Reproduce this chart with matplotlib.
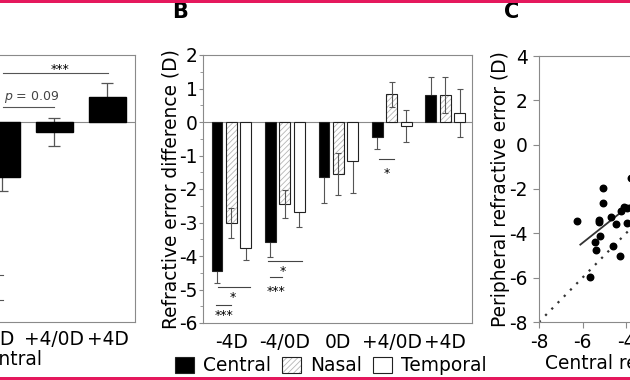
import matplotlib
matplotlib.use("Agg")
import matplotlib.pyplot as plt
from matplotlib.patches import Patch, Rectangle
from matplotlib.legend_handler import HandlerTuple
from matplotlib.ticker import MultipleLocator
import numpy as np

plt.rcParams['font.family'] = ['DejaVu Sans']
plt.rcParams['axes.unicode_minus'] = False
plt.rcParams['hatch.linewidth'] = 0.6

# ---------------- data ----------------
# Panel A (central, visible categories only)
a_categories = ["0D", "+4/0D", "+4D"]
a_values = [-1.65, -0.30, 0.75]
a_errors = [0.42, 0.42, 0.42]

# Panel B
b_categories = ["-4D", "-4/0D", "0D", "+4/0D", "+4D"]
b_central = [-4.46, -3.59, -1.65, -0.46, 0.82]
b_central_err = [0.34, 0.45, 0.78, 0.34, 0.53]
b_nasal = [-3.02, -2.45, -1.56, 0.83, 0.81]
b_nasal_err = [0.45, 0.43, 0.62, 0.37, 0.54]
b_temporal = [-3.77, -2.69, -1.17, -0.12, 0.27]
b_temporal_err = [0.36, 0.45, 0.95, 0.47, 0.73]
b_series = ["Central", "Nasal", "Temporal"]

# Panel C (visible points)
c_central = [-6.25, -5.05, -5.05, -5.25, -5.22, -5.18, -5.44, -5.36, -5.64,
             -4.67, -4.48, -4.59, -4.28, -4.25, -4.10, -3.94, -3.97, -3.79]
c_peripheral = [-3.45, -1.94, -2.62, -3.38, -3.50, -4.10, -4.40, -4.74, -5.98,
                -3.27, -3.57, -4.55, -5.01, -2.97, -2.82, -2.85, -3.53, -1.50]
c_fit_x = [-6.1, -2.5]
c_fit_slope = 0.78
c_fit_intercept = -4.51 + 0.78 * 6.1

FS = 13.4
GRAY = '#8a8a8a'
EDGE = '#222222'

fig = plt.figure(figsize=(6.3, 3.8), dpi=100)

# ---------------- Panel A ----------------
axA = fig.add_axes([-132 / 630, 58 / 380, 267 / 630, 267 / 380])
xa = np.arange(len(a_categories)) + 2
axA.errorbar(xa, a_values, yerr=a_errors, fmt='none', ecolor='#555555',
             elinewidth=0.9, capsize=4, capthick=0.9, zorder=1)
axA.bar(xa, a_values, width=0.7, color='black', edgecolor='black', zorder=2)
axA.axhline(0, color=GRAY, lw=0.8, zorder=0)
axA.set_xlim(-0.52, 4.52)
axA.set_ylim(-6, 2)
axA.set_xticks(xa)
axA.set_xticklabels(a_categories, fontsize=FS)
axA.tick_params(axis='x', length=0, pad=6)
axA.tick_params(axis='y', length=0, labelleft=False)
for s in axA.spines.values():
    s.set_color(GRAY)
    s.set_linewidth(0.8)
axA.set_xlabel("Central", fontsize=FS)
axA.xaxis.set_label_coords(0.524, -0.105)
# significance marks
axA.plot([2.03, 4.01], [1.47, 1.47], color='#555555', lw=0.8)
axA.annotate("***", (3.1, 1.68), xytext=(0, -5.2), textcoords='offset points',
             ha='center', va='baseline', fontsize=9)
axA.plot([2.03, 2.99], [0.45, 0.45], color='#555555', lw=0.8)
axA.text(2.56, 0.75, r"$p$ = 0.09", ha='center', va='center', fontsize=9, color='#444444')
axA.plot([1.5, 2.03], [-4.58, -4.58], color='#555555', lw=0.8)
axA.plot([1.5, 2.03], [-5.33, -5.33], color='#555555', lw=0.8)

# ---------------- Panel B ----------------
axB = fig.add_axes([203 / 630, 57 / 380, 269 / 630, 268 / 380])
xb = np.arange(len(b_categories))
off = 0.27
w = 0.2
# central
axB.errorbar(xb - off, b_central, yerr=b_central_err, fmt='none', ecolor='#555555',
             elinewidth=0.8, capsize=2, capthick=0.8, zorder=1)
axB.bar(xb - off, b_central, width=w, color='black', edgecolor=EDGE, lw=0.8, zorder=2)
# nasal (hatched)
axB.bar(xb, b_nasal, width=w, color='white', edgecolor='#b5b5b5', hatch='//////',
        lw=0, zorder=2)
axB.bar(xb, b_nasal, width=w, fill=False, edgecolor=EDGE, lw=0.8, zorder=3)
axB.errorbar(xb, b_nasal, yerr=b_nasal_err, fmt='none', ecolor='#555555',
             elinewidth=0.8, capsize=2, capthick=0.8, zorder=4)
# temporal
axB.errorbar(xb + off, b_temporal, yerr=b_temporal_err, fmt='none', ecolor='#555555',
             elinewidth=0.8, capsize=2, capthick=0.8, zorder=1)
axB.bar(xb + off, b_temporal, width=w, color='white', edgecolor=EDGE, lw=0.8, zorder=2)

axB.axhline(0, color=GRAY, lw=0.8, zorder=0)
axB.set_xlim(-0.53, 4.5)
axB.set_ylim(-6, 2)
axB.yaxis.set_major_locator(MultipleLocator(1))
axB.yaxis.set_minor_locator(MultipleLocator(0.5))
axB.set_xticks(xb)
axB.set_xticklabels(b_categories, fontsize=FS)
axB.tick_params(axis='x', length=0, pad=7)
axB.tick_params(axis='y', which='major', length=3, pad=1, labelsize=FS, color=GRAY)
axB.tick_params(axis='y', which='minor', length=2, color=GRAY)
for s in axB.spines.values():
    s.set_color(GRAY)
    s.set_linewidth(0.8)
axB.set_ylabel("Refractive error difference (D)", fontsize=FS)
axB.yaxis.set_label_coords(-0.083, 0.5)

# significance marks panel B
sig_lines = [((-0.25, 0.35), -4.94), ((-0.29, -0.01), -5.45),
             ((0.68, 1.32), -4.16), ((0.72, 0.94), -4.64),
             ((2.76, 3.04), -1.11)]
for (x0, x1), y in sig_lines:
    axB.plot([x0, x1], [y, y], color='#444444', lw=0.8)
sig_texts = [(0.03, -5.12, "*"), (-0.14, -5.66, "***"),
             (0.96, -4.34, "*"), (0.83, -4.94, "***"),
             (2.9, -1.44, "*")]
for x, y, t in sig_texts:
    axB.annotate(t, (x, y), xytext=(0, -5.2), textcoords='offset points',
                 ha='center', va='baseline', fontsize=9)

# legend
h_c = Patch(facecolor='black', edgecolor=EDGE, lw=0.8)
h_n = (Patch(facecolor='white', edgecolor='#b5b5b5', hatch='//////', lw=0),
       Patch(fill=False, edgecolor=EDGE, lw=0.8))
h_t = Patch(facecolor='white', edgecolor=EDGE, lw=0.8)
fig.legend([h_c, h_n, h_t], b_series, loc='center', bbox_to_anchor=(0.525, 0.037),
           ncol=3, frameon=False, fontsize=FS, handlelength=1.0, handleheight=1.0,
           handletextpad=0.5, columnspacing=0.6, borderpad=0,
           handler_map={tuple: HandlerTuple(ndivide=1, pad=0)})

# ---------------- Panel C ----------------
axC = fig.add_axes([539 / 630, 58 / 380, 261 / 630, 266 / 380])
axC.plot([-8, 4], [-8, 4], linestyle=(0, (1, 3)), color='#333333', lw=1.6, zorder=1)
fx = np.array(c_fit_x)
axC.plot(fx, c_fit_slope * fx + c_fit_intercept, color='#333333', lw=1.3, zorder=2)
axC.scatter(c_central, c_peripheral, s=22, color='black', zorder=3)
axC.set_xlim(-8, 4)
axC.set_ylim(-8, 4)
axC.xaxis.set_major_locator(MultipleLocator(2))
axC.yaxis.set_major_locator(MultipleLocator(2))
axC.tick_params(length=4, pad=4, labelsize=FS, color=GRAY)
for s in axC.spines.values():
    s.set_color(GRAY)
    s.set_linewidth(0.8)
axC.set_ylabel("Peripheral refractive error (D)", fontsize=FS)
axC.yaxis.set_label_coords(-0.112, 0.5)
axC.set_xlabel("Central refractive error (D)", fontsize=FS)
axC.xaxis.set_label_coords(0.5, -0.12)

# panel letters
fig.text(180 / 630, 1 - 12 / 380, "B", fontsize=15, fontweight='bold', ha='center', va='center')
fig.text(512 / 630, 1 - 12 / 380, "C", fontsize=15, fontweight='bold', ha='center', va='center')

# crimson borders
fig.add_artist(Rectangle((0, 1 - 3 / 380), 1, 3 / 380, transform=fig.transFigure,
                         color='#e5185d', lw=0, zorder=10))
fig.add_artist(Rectangle((0, 0), 1, 3 / 380, transform=fig.transFigure,
                         color='#e5185d', lw=0, zorder=10))

fig.savefig("out.png", dpi=100)
